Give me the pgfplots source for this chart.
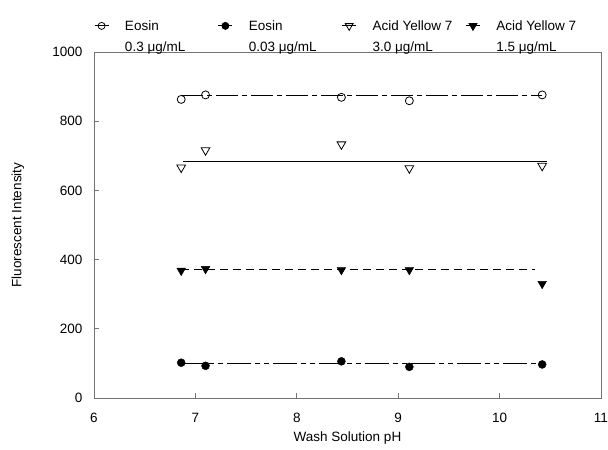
\documentclass[border=0pt]{standalone}
\usepackage{fontspec}
\setmainfont{Liberation Sans}
\usepackage{pgfplots}
\pgfplotsset{compat=1.18}
\definecolor{framegray}{gray}{0.45}
\begin{document}
\begin{tikzpicture}[font=\fontsize{13.5bp}{15bp}\selectfont]
\begin{axis}[
  at={(0,0)}, anchor=south west,
  scale only axis, width=507bp, height=346bp,
  xmin=6, xmax=11, ymin=0, ymax=1000,
  xtick={6,7,8,9,10,11}, ytick={0,200,400,600,800,1000},
  tick align=inside, xtick pos=bottom, ytick pos=left,
  major tick length=5bp,
  axis line style={framegray, line width=0.8bp},
  tick style={framegray, line width=0.8bp},
  /pgf/number format/assume math mode=true,
  /pgf/number format/1000 sep={},
  x tick label style={yshift=-12bp},
  y tick label style={xshift=-8bp},
  xlabel={Wash Solution pH},
  ylabel={Fluorescent Intensity},
  xlabel style={at={(axis description cs:0.5,-0.115)}, anchor=center},
  ylabel style={at={(axis description cs:-0.15,0.5)}, anchor=center},
  legend columns=4,
  legend style={draw=none, fill=none, at={(axis description cs:0,1)}, anchor=south west,
    yshift=-3bp, inner xsep=0pt, inner ysep=0pt, row sep=6bp,
    cells={anchor=west}, nodes={inner sep=2bp}},
  legend image code/.code={\draw[mark repeat=2,mark phase=2,#1] plot coordinates {(0bp,0bp) (7bp,0bp) (14bp,0bp)};},
]
% data: Eosin 0.3
\addplot[forget plot, only marks, mark=o, mark size=4bp, line width=0.8bp] coordinates {(6.86,863) (7.10,876) (8.44,869) (9.11,859) (10.42,876)};
\addplot[forget plot, no marks, line width=0.8bp, dash pattern=on 22bp off 4bp on 5bp off 4bp] coordinates {(6.86,876) (10.42,876)};
% Acid Yellow 7 3.0
\addplot[forget plot, only marks, mark=triangle, mark size=5bp, mark options={rotate=180}, line width=0.8bp] coordinates {(6.86,666) (7.10,716) (8.44,733) (9.11,664) (10.42,671)};
\addplot[forget plot, no marks, line width=0.8bp] coordinates {(6.88,685) (10.47,685)};
% Acid Yellow 7 1.5
\addplot[forget plot, only marks, mark=triangle*, mark size=5bp, mark options={rotate=180}, fill=black] coordinates {(6.86,368) (7.10,373) (8.44,370) (9.11,370) (10.42,330)};
\addplot[forget plot, no marks, line width=0.8bp, dash pattern=on 8bp off 5bp] coordinates {(6.86,371) (10.35,371)};
% Eosin 0.03
\addplot[forget plot, only marks, mark=*, mark size=4bp, fill=black] coordinates {(6.86,102) (7.10,93) (8.44,106) (9.11,90) (10.42,97)};
\addplot[forget plot, no marks, line width=0.8bp, dash pattern=on 24bp off 4bp on 5bp off 4bp on 5bp off 4bp] coordinates {(6.86,101) (10.42,101)};
% legend
\addlegendimage{black, line width=0.8bp, mark=o, mark size=3.5bp}
\addlegendentry{\hspace*{14bp}\makebox[91bp][l]{Eosin}}
\addlegendimage{black, line width=0.8bp, mark=*, mark size=3.5bp}
\addlegendentry{\hspace*{14bp}\makebox[91bp][l]{Eosin}}
\addlegendimage{black, line width=0.8bp, mark=triangle, mark size=4.5bp, mark options={rotate=180}}
\addlegendentry{\hspace*{14bp}\makebox[91bp][l]{Acid Yellow 7}}
\addlegendimage{black, line width=0.8bp, mark=triangle*, mark size=4.5bp, mark options={rotate=180}}
\addlegendentry{\hspace*{14bp}\makebox[91bp][l]{Acid Yellow 7}}
\addlegendimage{empty legend}
\addlegendentry{\hspace*{14bp}\makebox[91bp][l]{0.3 μg/mL}}
\addlegendimage{empty legend}
\addlegendentry{\hspace*{14bp}\makebox[91bp][l]{0.03 μg/mL}}
\addlegendimage{empty legend}
\addlegendentry{\hspace*{14bp}\makebox[91bp][l]{3.0 μg/mL}}
\addlegendimage{empty legend}
\addlegendentry{\hspace*{14bp}\makebox[91bp][l]{1.5 μg/mL}}
\end{axis}
\pgfresetboundingbox
\path (-94bp,-52bp) rectangle (514bp,398bp);
\end{tikzpicture}
\end{document}
